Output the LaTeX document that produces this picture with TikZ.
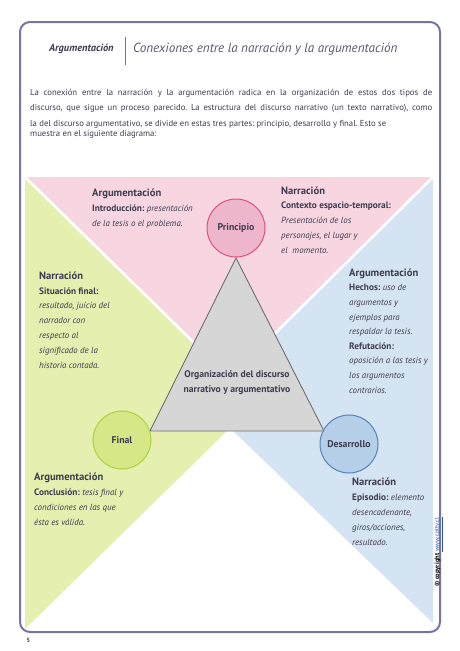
\documentclass[tikz,border=0pt]{standalone}
\usepackage{fontspec}
\setmainfont{PT Sans}
\frenchspacing
\definecolor{frm}{HTML}{7474A8}
\definecolor{txt}{HTML}{3C3C4E}
\definecolor{pinkbg}{HTML}{F7D6E1}
\definecolor{greenbg}{HTML}{E4EFB0}
\definecolor{bluebg}{HTML}{D5E4F2}
\definecolor{pfill}{HTML}{EEB6CC}
\definecolor{pdraw}{HTML}{E0507E}
\definecolor{gfill}{HTML}{D6E787}
\definecolor{gdraw}{HTML}{AED23A}
\definecolor{bfill}{HTML}{B6CFE8}
\definecolor{bdraw}{HTML}{5582B8}
\definecolor{trifill}{HTML}{D6D6D6}
\definecolor{tridraw}{HTML}{6E6E6E}
\definecolor{link}{HTML}{3050B0}
\newcommand{\hd}[1]{{\fontsize{10.6}{14.8}\selectfont\upshape\bfseries #1}}
\newcommand{\lb}[1]{{\fontsize{9.3}{14.8}\selectfont\upshape\bfseries #1}}
\begin{document}
\begin{tikzpicture}[x=1pt,y=-1pt,
  blk/.style={anchor=base west, inner sep=0pt, align=left, text=txt, font=\fontsize{8.9}{14.8}\selectfont\itshape},
  para/.style={anchor=base west, inner sep=0pt, text=txt, font=\fontsize{8.7}{10}\selectfont},
  stage/.style={circle, minimum size=58pt, inner sep=0pt, line width=1pt, text=txt, font=\fontsize{9.8}{11}\selectfont\bfseries},
  frame/.style={draw=frm, line width=2pt, rounded corners=10pt}]
\useasboundingbox (0,0) rectangle (460,651);
% frame
\draw[frame] (20,22) rectangle (440,632);
% header
\node[anchor=base west, inner sep=0pt, text=txt, font=\fontsize{10.4}{11}\selectfont\bfseries\itshape] (hdr) at (49,51.5) {Argumentación};
\coordinate (barT) at (125.5,36.5);
\coordinate (barB) at (125.5,65);
\draw[color=txt!70, line width=0.8pt] (barT) -- (barB);
\node[anchor=base west, inner sep=0pt, text=txt!85, font=\fontsize{13.1}{14}\selectfont\itshape] (title) at (133,52.5) {Conexiones entre la narración y la argumentación};
% paragraph
\node[para] (p1) at (30,95.5) {\makebox[402pt][s]{La conexión entre la narración y la argumentación radica en la organización de estos dos tipos de}};
\node[para] (p2) at (30,110.5) {\makebox[402pt][s]{discurso, que sigue un proceso parecido. La estructura del discurso narrativo (un texto narrativo), como}};
\node[para] (p3) at (30,126.5) {la del discurso argumentativo, se divide en estas tres partes: principio, desarrollo y final. Esto se};
\node[para] (p4) at (30,136) {muestra en el siguiente diagrama:};
% background regions
\coordinate (TL) at (25,177);
\coordinate (TR) at (433,177);
\coordinate (BL) at (25,629);
\coordinate (BR) at (433,623);
\coordinate (M) at (230,378);
\coordinate (N) at (230,428);
\fill[greenbg] (TL) -- (M) -- (N) -- (BL) -- cycle;
\fill[bluebg] (TR) -- (M) -- (N) -- (BR) -- cycle;
\fill[pinkbg] (TL) -- (TR) -- (M) -- cycle;
\draw[white, line width=2.6pt] (TL) -- (M) -- (TR);
% central triangle
\coordinate (A) at (236,258);
\coordinate (B) at (150,431);
\coordinate (C) at (324,431);
\draw[fill=trifill, draw=tridraw, line width=0.9pt, line join=miter] (A) -- (B) -- (C) -- cycle;
\node[align=center, text=txt, font=\fontsize{9.6}{15}\selectfont\bfseries] (org) at (237,383) {Organización del discurso\\narrativo y argumentativo};
% stages
\node[stage, fill=pfill, draw=pdraw] (pri) at (236,228) {Principio};
\node[stage, fill=gfill, draw=gdraw] (fin) at (122,440) {Final};
\node[stage, fill=bfill, draw=bdraw] (des) at (349,444) {Desarrollo};
% text blocks (anchor = baseline of last line)
\node[blk] (tl) at (92,226) {\hd{Argumentación}\\\lb{Introducción:} presentación\\de la tesis o el problema.};
\node[blk, font=\fontsize{8.9}{14.7}\selectfont\itshape] (tr) at (281,253) {\hd{Narración}\\\lb{Contexto espacio-temporal:}\\Presentación de los\\personajes, el lugar y\\el~ momento.};
\node[blk] (lg) at (39,368) {\hd{Narración}\\\lb{Situación final:}\\resultado, juicio del\\narrador con\\respecto al\\significado de la\\historia contada.};
\node[blk, font=\fontsize{8.9}{14.6}\selectfont\itshape] (rb) at (349,393) {\hd{Argumentación}\\\lb{Hechos:} uso de\\argumentos y\\ejemplos para\\respaldar la tesis.\\\lb{Refutación:}\\oposición a las tesis y\\los argumentos\\contrarios.};
\node[blk, font=\fontsize{8.9}{15}\selectfont\itshape] (bl) at (34,525.5) {\hd{Argumentación}\\\lb{Conclusión:} tesis final y\\condiciones en las que\\ésta es válida.};
\node[blk] (br) at (352,545) {\hd{Narración}\\\lb{Episodio:} elemento\\desencadenante,\\giros/acciones,\\resultado.};
% copyright & page
\node[rotate=90, anchor=base west, inner sep=0pt, font=\fontsize{6.5}{7}\selectfont] (cr) at (439,587) {\textbf{© copyright} \textcolor{link}{\underline{www.cplty.cl}}};
\node[anchor=base west, inner sep=0pt, text=txt, font=\fontsize{6}{7}\selectfont\bfseries] (pg) at (26.5,642) {5};
\end{tikzpicture}
\end{document}
